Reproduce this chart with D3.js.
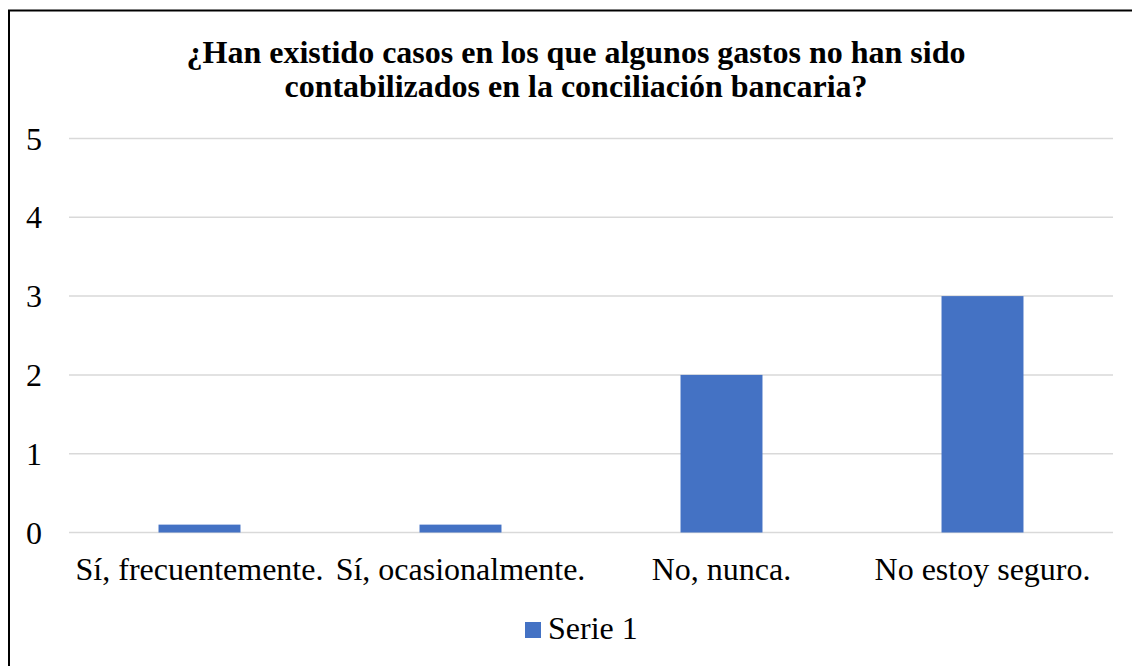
<!DOCTYPE html>
<html><head><meta charset="utf-8">
<script src="https://cdn.jsdelivr.net/npm/d3@7"></script>
<style>body{margin:0;background:#fff}svg{display:block}</style>
</head><body>
<script>
const categories = ["Sí, frecuentemente.", "Sí, ocasionalmente.", "No, nunca.", "No estoy seguro."];
const values = [0.1, 0.1, 2, 3];
const yTicks = [0, 1, 2, 3, 4, 5];
const seriesName = "Serie 1";
const titleLines = ["¿Han existido casos en los que algunos gastos no han sido", "contabilizados en la conciliación bancaria?"];

const W = 1132, H = 666;
const FONT = "Liberation Serif, Times New Roman, serif";
const svg = d3.select("body").append("svg").attr("width", W).attr("height", H);

svg.append("rect").attr("x", 9).attr("y", 10.5).attr("width", W + 10).attr("height", H + 10)
  .attr("fill", "#fff").attr("stroke", "#000").attr("stroke-width", 2);

const x = d3.scaleBand().domain(categories).range([69, 1113]).paddingInner(0.686).paddingOuter(0.343);
const y = d3.scaleLinear().domain([0, 5]).range([532.5, 138.5]);

const g = svg.append("g");
g.selectAll("line.grid").data(yTicks).join("line")
  .attr("x1", 69).attr("x2", 1113)
  .attr("y1", d => y(d)).attr("y2", d => y(d))
  .attr("stroke", "#d9d9d9").attr("stroke-width", 1.5);

g.selectAll("rect.bar").data(values).join("rect")
  .attr("x", (d, i) => x(categories[i])).attr("width", x.bandwidth())
  .attr("y", d => y(d)).attr("height", d => y(0) - y(d))
  .attr("fill", "#4472c4");

const yAxis = d3.axisLeft(y).tickValues(yTicks).tickFormat(d3.format("d")).tickSize(0).tickPadding(0);
const ya = svg.append("g").attr("transform", "translate(42,0)").call(yAxis);
ya.select(".domain").remove();
ya.selectAll("text").style("font-family", FONT).style("font-size", "32px").attr("fill", "#000").attr("dy", "0.33em");

const xAxis = d3.axisBottom(x).tickSize(0).tickPadding(0);
const xa = svg.append("g").attr("transform", "translate(0,580)").call(xAxis);
xa.select(".domain").remove();
xa.selectAll("text").style("font-family", FONT).style("font-size", "32px").attr("fill", "#000").attr("dy", 0);

svg.append("text").attr("x", 576).attr("y", 63).attr("text-anchor", "middle")
  .style("font-family", FONT).style("font-weight", "bold").style("font-size", "32px")
  .selectAll("tspan").data(titleLines).join("tspan")
  .attr("x", 576).attr("dy", (d, i) => i === 0 ? 0 : 34).text(d => d);

const leg = svg.append("g");
leg.append("rect").attr("x", 525).attr("y", 622).attr("width", 16).attr("height", 16).attr("fill", "#4472c4");
leg.append("text").attr("x", 548).attr("y", 639).style("font-family", FONT).style("font-size", "32px").text(seriesName);
</script>
</body></html>
